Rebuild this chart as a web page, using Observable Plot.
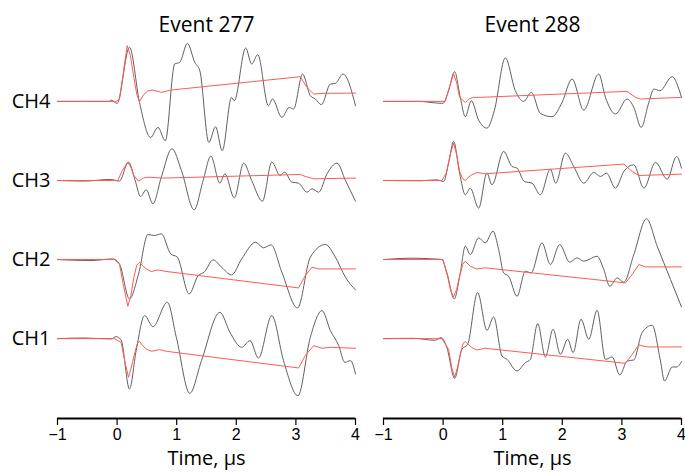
<!DOCTYPE html>
<html>
<head>
<meta charset="utf-8">
<script src="https://cdn.jsdelivr.net/npm/d3@7"></script>
<script src="https://cdn.jsdelivr.net/npm/@observablehq/plot@0.6"></script>
<style>
  html, body { margin: 0; padding: 0; background: #fff; }
  #chart { width: 685px; height: 472px; }
</style>
</head>
<body>
<div id="chart"></div>
<script>
// ---------- categories & ticks ----------
const events = [277, 288];
const channels = ["CH1", "CH2", "CH3", "CH4"];
const timeTicks = [-1, 0, 1, 2, 3, 4];
const xLabel = "Time, \u00b5s";

// ---------- waveforms: [time µs, amplitude] (grey = measured signal, red = model) ----------
const e277_ch4_signal = [[-1,0],[-0.129,0],[-0.101,0.17],[0,-0.25],[0.208,6.84],[0.376,-0.13],[0.562,-4.56],[0.685,-3.29],[0.809,-4.98],[0.966,4.73],[1.051,4.94],[1.18,7.34],[1.303,4.94],[1.388,3.88],[1.539,-5.19],[1.652,-3.21],[1.764,-6.24],[1.921,0.51],[1.966,0.08],[2.157,6.75],[2.258,4.73],[2.36,5.91],[2.539,-0.55],[2.607,0.3],[2.764,-2.03],[2.888,-0.76],[2.961,-0.97],[3.112,3.46],[3.242,0.72],[3.326,0.3],[3.427,-0.42],[3.579,2.19],[3.663,2.28],[3.792,3.46],[4,-0.55]];
const e277_ch4_model = [[-1,0],[-0.017,0],[0.039,0.3],[0.1,3.4],[0.169,7.05],[0.22,5.9],[0.281,3.04],[0.33,0.9],[0.376,-0.04],[0.44,0.8],[0.517,1.35],[0.601,1.43],[0.742,1.14],[0.899,1.43],[3.073,3.12],[3.185,1.77],[3.298,0.93],[3.438,1.01],[4,1.05]];

const e277_ch3_signal = [[-1,0],[-0.55,-0.08],[-0.112,0.13],[0.039,-0.08],[0.191,2.32],[0.303,0],[0.393,-2.03],[0.489,-1.18],[0.601,-2.95],[0.742,0.42],[0.921,4.01],[1.079,1.27],[1.292,-3.71],[1.444,0],[1.573,3.08],[1.725,-0.34],[1.809,0.84],[1.966,-2.19],[2.124,2.19],[2.258,0],[2.438,-2.62],[2.596,2.32],[2.736,0.63],[2.809,1.05],[2.933,-0.21],[3.045,-0.34],[3.185,-1.48],[3.27,-1.05],[3.382,-1.48],[3.522,0.84],[3.691,2.19],[3.831,0],[4,-2.62]];
const e277_ch3_model = [[-1,0],[0.011,0],[0.09,1.3],[0.18,2.32],[0.23,1.7],[0.281,0.63],[0.36,-0.08],[0.44,0.3],[0.517,0.42],[0.77,0.3],[3.073,0.76],[3.157,0.51],[3.298,0.21],[4,0.3]];

const e277_ch2_signal = [[-1,0],[-0.438,-0.13],[-0.073,0.08],[0.039,-0.55],[0.208,-4.98],[0.36,-1.81],[0.517,3.16],[0.629,3.04],[0.742,3.25],[0.899,0.72],[1.011,0.3],[1.208,-4.35],[1.36,-2.03],[1.461,-1.6],[1.612,-0.04],[1.753,-0.97],[1.921,-1.94],[2.09,0.08],[2.326,2.19],[2.455,1.48],[2.584,1.86],[2.764,-1.6],[3.028,-6.12],[3.242,0.3],[3.494,1.9],[3.663,0.3],[3.831,-2.24],[4,-3.84]];
const e277_ch2_model = [[-1,0],[-0.045,0],[0.039,-0.55],[0.11,-3.4],[0.18,-5.91],[0.23,-4.6],[0.281,-2.24],[0.33,-0.7],[0.376,-0.34],[0.43,-0.8],[0.489,-1.18],[0.573,-1.52],[0.685,-1.31],[0.798,-1.48],[3.045,-3.59],[3.157,-2.03],[3.27,-0.97],[3.382,-1.18],[3.551,-1.18],[4,-1.18]];

const e277_ch1_signal = [[-1,0],[-0.551,0.08],[-0.101,-0.04],[-0.017,0.25],[0.067,-0.17],[0.208,-6.37],[0.32,-1.52],[0.461,2.91],[0.601,1.52],[0.843,4.6],[0.994,0.17],[1.219,-6.92],[1.416,-2.78],[1.725,3.33],[1.893,0.8],[2.09,-1.1],[2.23,-0.25],[2.371,-2.45],[2.596,2.91],[2.792,-2.78],[3.034,-7.22],[3.242,0.17],[3.438,3.54],[3.579,1.01],[3.719,-0.89],[3.82,-3.0],[3.916,-2.78],[4,-4.47]];
const e277_ch1_model = [[-1,0],[-0.045,0],[0.067,-0.46],[0.13,-2.9],[0.191,-4.89],[0.24,-3.6],[0.292,-1.94],[0.335,-0.7],[0.376,-0.34],[0.43,-0.9],[0.489,-1.31],[0.573,-1.6],[0.713,-1.39],[0.826,-1.6],[3.045,-3.71],[3.157,-2.15],[3.298,-0.89],[3.438,-1.22],[3.579,-1.1],[4,-1.22]];

const e288_ch4_signal = [[-1,0],[-0.383,0],[-0.216,-0.13],[-0.003,-0.25],[0.092,1.35],[0.193,3.76],[0.288,0.51],[0.372,-1.94],[0.473,0.08],[0.596,-2.36],[0.736,-3.38],[0.859,-1.18],[1.044,5.49],[1.212,1.35],[1.352,0],[1.481,1.14],[1.632,-1.52],[1.828,-1.94],[1.996,-0.13],[2.164,2.83],[2.36,-1.1],[2.612,3.46],[2.724,0.51],[2.892,-1.6],[3.088,0.3],[3.2,-0.76],[3.323,-3.29],[3.452,-0.13],[3.536,1.56],[3.637,1.35],[3.844,3.12],[3.956,1.56],[4,0.51]];
const e288_ch4_model = [[-1,0],[0.036,0],[0.11,1.9],[0.176,3.46],[0.23,2.3],[0.277,0.51],[0.372,-0.13],[0.44,0.35],[0.512,0.51],[0.624,0.51],[3.088,1.27],[3.228,0.51],[3.312,0.3],[4,0.51]];

const e288_ch3_signal = [[-1,0],[-0.383,-0.04],[-0.104,0.08],[0.008,-0.13],[0.092,2.19],[0.176,4.94],[0.277,0.93],[0.372,-1.81],[0.456,-0.97],[0.596,-3.5],[0.736,0.93],[0.82,-0.55],[1.016,3.67],[1.156,1.77],[1.24,1.56],[1.363,-0.13],[1.492,-0.34],[1.632,-1.81],[1.8,1.43],[1.89,-0.34],[2.052,3.46],[2.192,1.77],[2.36,-0.34],[2.528,1.01],[2.64,0.51],[2.741,0.93],[2.892,-0.97],[3.032,1.14],[3.2,1.98],[3.368,-0.97],[3.564,2.28],[3.76,0.17],[3.917,3.04],[4,1.56]];
const e288_ch3_model = [[-1,0],[-0.02,0],[0.053,0.93],[0.12,3.3],[0.176,4.73],[0.23,3.2],[0.277,1.14],[0.33,0.2],[0.372,0],[0.43,0.45],[0.484,0.72],[0.568,1.01],[0.708,0.84],[3.032,2.07],[3.172,1.14],[3.284,0.63],[4,0.8]];

const e288_ch2_signal = [[-1,0],[-0.552,0.17],[-0.16,0.08],[-0.02,0],[0.064,-1.69],[0.187,-4.98],[0.288,-1.69],[0.372,1.69],[0.456,0.63],[0.596,2.74],[0.708,2.11],[0.837,3.59],[0.932,1.27],[1.016,-1.69],[1.1,-2.11],[1.24,-4.64],[1.38,-1.48],[1.475,-1.69],[1.66,2.11],[1.8,-0.63],[1.956,1.9],[2.124,-0.34],[2.248,0.21],[2.36,-0.21],[2.584,0.42],[2.696,-1.27],[2.797,-3.38],[2.92,-2.32],[3.032,-2.87],[3.2,0.63],[3.413,5.15],[3.592,1.69],[3.816,-2.53],[4,-6.0]];
const e288_ch2_model = [[-1,0],[-0.003,0],[0.075,-2.11],[0.13,-4.0],[0.176,-4.73],[0.23,-3.7],[0.277,-2.11],[0.33,-0.6],[0.372,-0.21],[0.456,-0.84],[0.557,-1.18],[0.708,-1.05],[3.06,-2.95],[3.172,-1.9],[3.284,-0.63],[3.396,-0.93],[4,-0.93]];

const e288_ch1_signal = [[-1,0],[-0.496,0.04],[-0.132,-0.21],[-0.036,0.13],[0.064,-1.14],[0.193,-5.02],[0.316,-1.35],[0.411,-0.72],[0.579,5.82],[0.736,1.05],[0.848,2.74],[0.988,-2.19],[1.072,-2.62],[1.24,-4.09],[1.38,-3.04],[1.464,-2.62],[1.587,1.9],[1.716,-2.32],[1.845,1.18],[1.968,-1.98],[2.091,-0.08],[2.181,-1.77],[2.315,2.45],[2.444,-0.08],[2.584,3.59],[2.724,-2.62],[2.836,-2.32],[2.965,-4.6],[3.088,-2.83],[3.2,-2.7],[3.339,0.76],[3.507,1.69],[3.647,-2.83],[3.715,-5.36],[3.844,-3.59],[3.92,-3.59],[4,-2.91]];
const e288_ch1_model = [[-1,0],[-0.02,0],[0.092,-1.35],[0.145,-3.7],[0.193,-4.85],[0.24,-3.7],[0.288,-1.98],[0.335,-0.6],[0.372,-0.38],[0.484,-1.14],[0.568,-1.43],[0.708,-1.22],[3.06,-3.12],[3.172,-1.98],[3.284,-0.8],[3.424,-1.05],[4,-1.05]];

// ---------- assemble ----------
const traces = [
  [277, "CH4", e277_ch4_signal, e277_ch4_model],
  [277, "CH3", e277_ch3_signal, e277_ch3_model],
  [277, "CH2", e277_ch2_signal, e277_ch2_model],
  [277, "CH1", e277_ch1_signal, e277_ch1_model],
  [288, "CH4", e288_ch4_signal, e288_ch4_model],
  [288, "CH3", e288_ch3_signal, e288_ch3_model],
  [288, "CH2", e288_ch2_signal, e288_ch2_model],
  [288, "CH1", e288_ch1_signal, e288_ch1_model]
];
const spacing = 10; // vertical separation between channel baselines (amplitude units)
const rows = [];
for (const [event, ch, sig, mod] of traces) {
  const off = channels.indexOf(ch) * spacing;
  for (const [kind, pts] of [["signal", sig], ["model", mod]]) {
    for (const [t, v] of pts) rows.push({event, ch, kind, key: event + ch + kind, t, y: v + off});
  }
}
const signalRows = rows.filter(d => d.kind === "signal");
const modelRows = rows.filter(d => d.kind === "model");
const yMin = -10.1, yMax = 37.7;
const labelFont = "'Open Sans', Lato, sans-serif";
const fmtInt = d3.format("d");

const chart = Plot.plot({
  width: 685,
  height: 472,
  marginLeft: 57,
  marginRight: 4,
  marginTop: 40,
  marginBottom: 54,
  style: {fontFamily: "'Liberation Sans', Arial, sans-serif", background: "#fff"},
  fx: {domain: events, padding: 0.086, label: null},
  x: {domain: [-1, 4]},
  y: {domain: [yMin, yMax]},
  marks: [
    Plot.axisFx({anchor: "top", tickSize: 0, tickPadding: 9, fontSize: 21, fontFamily: labelFont, label: null, tickFormat: d => "Event " + d}),
    Plot.axisY({ticks: channels.map((c, i) => i * spacing), tickFormat: d => channels[d / spacing], tickSize: 0, tickPadding: 7, fontSize: 20, fontFamily: labelFont, label: null}),
    Plot.axisX({ticks: timeTicks, tickFormat: fmtInt, tickSize: 7, tickPadding: 3, fontSize: 16, label: null, strokeWidth: 1.2}),
    Plot.ruleY([yMin], {stroke: "#000", strokeWidth: 2.2}),
    Plot.text([xLabel], {frameAnchor: "bottom", lineAnchor: "middle", dy: 40, fontSize: 20, fontFamily: labelFont, fill: "#000"}),
    Plot.line(signalRows, {fx: "event", x: "t", y: "y", z: "key", stroke: "#606060", strokeWidth: 1, curve: "monotone-x"}),
    Plot.line(modelRows, {fx: "event", x: "t", y: "y", z: "key", stroke: "#ff5a5a", strokeWidth: 1, curve: "linear"})
  ]
});
document.getElementById("chart").appendChild(chart);
</script>
</body>
</html>
